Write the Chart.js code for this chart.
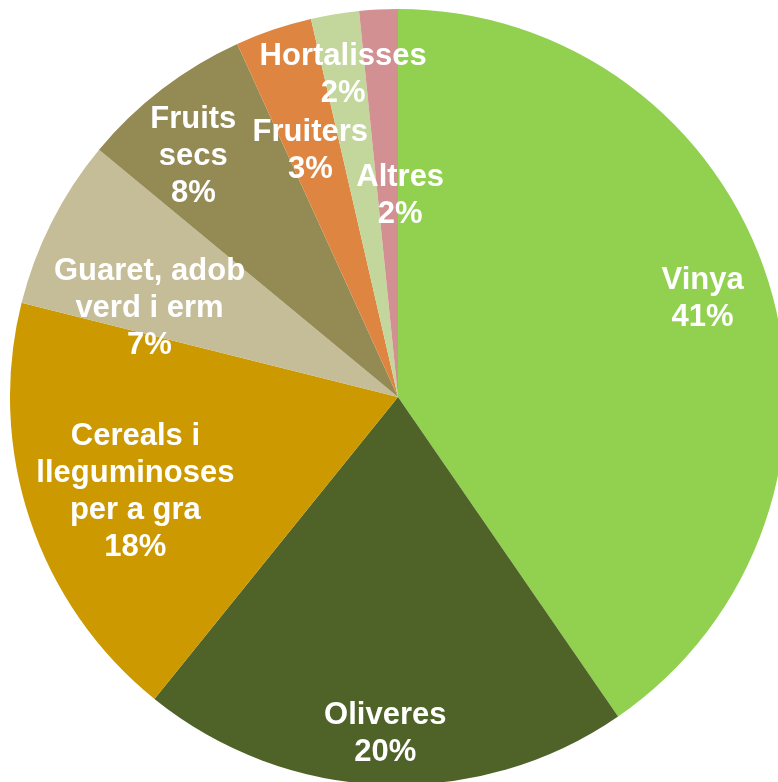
<!DOCTYPE html>
<html>
<head>
<meta charset="utf-8">
<script src="https://cdn.jsdelivr.net/npm/chart.js@4.4.0/dist/chart.umd.min.js"></script>
<style>
    html, body { margin: 0; padding: 0; background: #fff; overflow: hidden; width: 778px; height: 782px; }
    #wrap { position: absolute; left: 10px; top: 9px; width: 776px; height: 776px; }
</style>
</head>
<body>
<div id="wrap"><canvas id="myPie"></canvas></div>
<script>
// categories (line breaks as in the picture)
const categories = [
    ['Vinya'],
    ['Oliveres'],
    ['Cereals i', 'lleguminoses', 'per a gra'],
    ['Guaret, adob', 'verd i erm'],
    ['Fruits', 'secs'],
    ['Fruiters'],
    ['Hortalisses'],
    ['Altres']
];
// share of area
const shares = [40.4, 20.4, 18.1, 7.1, 7.2, 3.2, 2.0, 1.6];
// percentage labels as printed
const pctLabels = ['41%', '20%', '18%', '7%', '8%', '3%', '2%', '2%'];

const sliceColors = ['#92D050', '#4F6228', '#CC9900', '#C4BD97', '#948A54', '#DE8641', '#C3D69B', '#D29093'];

// label placement: [fraction of radius, angle shift in degrees]
const labelPlace = [[0.825, -0.6], [0.87, 0], [0.72, -1.4], [0.68, -7.2], [0.815, -2.9], [0.673, -0.9], [0.842, -0.3], [0.518, 3.5]];

let myPie;

// plugin che disegna le etichette dentro le fette
const sliceLabels = {
    id: 'sliceLabels',
    afterDatasetsDraw(chart) {
        const ctx = chart.ctx;
        const meta = chart.getDatasetMeta(0);
        ctx.save();
        ctx.fillStyle = '#ffffff';
        ctx.font = 'bold 31px "Liberation Sans", Arial, sans-serif';
        ctx.textAlign = 'center';
        ctx.textBaseline = 'middle';
        const lineH = 37;
        meta.data.forEach((arc, i) => {
            const p = arc.getProps(['x', 'y', 'startAngle', 'endAngle', 'outerRadius'], true);
            const mid = (p.startAngle + p.endAngle) / 2 + labelPlace[i][1] * Math.PI / 180;
            const r = p.outerRadius * labelPlace[i][0];
            const cx = p.x + Math.cos(mid) * r;
            const cy = p.y + Math.sin(mid) * r;
            const lines = categories[i].concat([pctLabels[i]]);
            const top = cy - (lines.length - 1) * lineH / 2;
            lines.forEach((t, k) => ctx.fillText(t, cx, top + k * lineH));
        });
        ctx.restore();
    }
};

function createPie() {
    const ctx = document.getElementById('myPie').getContext('2d');
    myPie = new Chart(ctx, {
        type: 'pie',
        data: {
            labels: categories,
            datasets: [{
                data: shares,
                backgroundColor: sliceColors,
                borderWidth: 0
            }]
        },
        options: {
            responsive: true,
            maintainAspectRatio: false,
            animation: false,
            layout: { padding: 0 },
            plugins: {
                legend: { display: false },
                tooltip: { enabled: false }
            }
        },
        plugins: [sliceLabels]
    });
}

window.onload = function () {
    createPie();
}
</script>
</body>
</html>
